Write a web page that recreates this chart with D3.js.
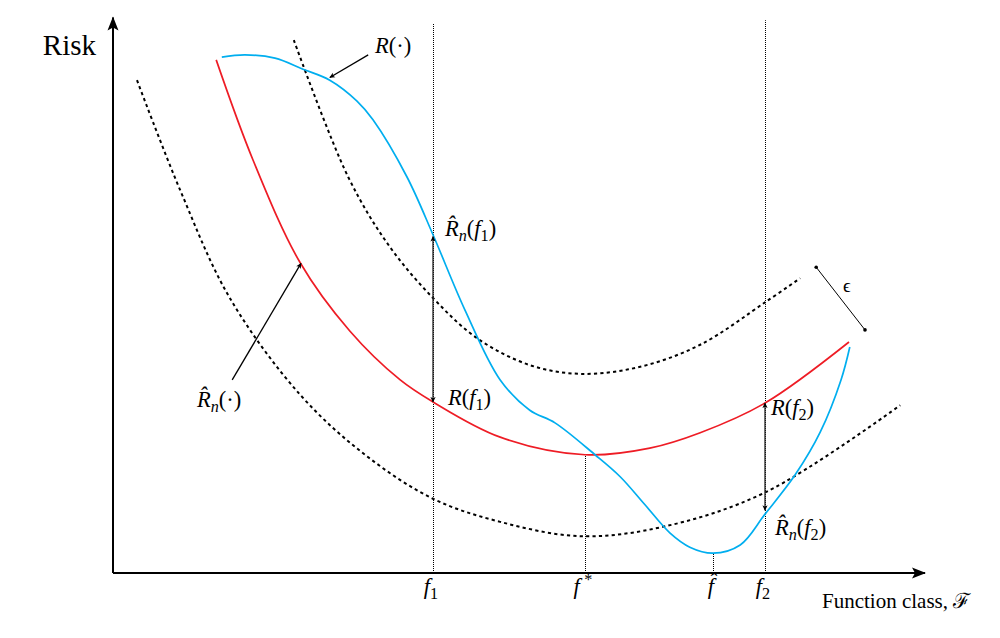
<!DOCTYPE html>
<html>
<head>
<meta charset="utf-8">
<script src="https://cdn.jsdelivr.net/npm/d3@7"></script>
<style>
  body { margin: 0; background: #fff; }
  svg text { font-family: "Liberation Serif", "DejaVu Serif", serif; fill: #000; }
</style>
</head>
<body>
<svg id="chart" width="1000" height="638"></svg>
<script>
// data: x = position in the function class, y = risk (both arbitrary 0..100 units)
const redX   = [12.9, 17.5, 23.4, 29.6, 35.9, 40, 48.4, 59, 67.1, 73.4, 81.5, 92];
const redY   = [93.3, 75.1, 56.4, 44, 35.1, 31.1, 24.7, 21.5, 22.7, 25.5, 30.9, 42];

const blueX  = [13.6, 16.5, 20.25, 23.75, 27.1, 30.5, 32.5, 36.75, 40, 44, 48.4, 52.1, 55.25, 60.25, 63.4, 66.5, 69.6, 72.1, 75, 78.4, 81.5, 85.25, 88.4, 91, 92.1];
const blueY  = [93.8, 94.2, 93.6, 91.6, 89.6, 85.8, 82.4, 72, 61.5, 47.8, 35.1, 29.6, 27.3, 21.5, 17.5, 12.4, 7.3, 4.7, 3.6, 5.1, 10.7, 17.8, 25.6, 35.1, 41.1];

const upperX = [22.6, 29.4, 34.6, 40, 45.5, 52.1, 58.6, 65.9, 73.4, 81.6, 85.9];
const upperY = [96.9, 72, 59.3, 50, 42.7, 37.8, 36.2, 37.5, 41.5, 49.3, 53.6];

const lowerX = [3, 8.4, 14.6, 23.4, 31.5, 40, 48.4, 58.4, 68.75, 81.6, 98.4];
const lowerY = [89.6, 69.6, 50, 32.4, 21.5, 13.5, 9.3, 6.7, 8.4, 14.7, 30.5];

// marked functions on the x axis: f1, f*, f-hat, f2
const markX   = [40, 59, 75, 81.5];
const markTop = [100, 21.5, 3.6, 100.5];   // top of each dotted guide
const markLabels = [
  [{ t: 'f', it: true }, { t: '1', sub: true }],
  [{ t: 'f', it: true }, { t: '\u2009' }, { t: '*', sup: true }],
  [{ t: 'f\u0302', it: true }],
  [{ t: 'f', it: true }, { t: '2', sub: true }]
];

// gap arrows at f1 and f2: [x, from, to]
const gapArrows = [[40, 31.1, 61.2], [81.5, 30.9, 11.4]];

const svg = d3.select('#chart');
const x = d3.scaleLinear().domain([0, 100]).range([113, 913]);
const y = d3.scaleLinear().domain([0, 100]).range([573, 23]);

// markers
const defs = svg.append('defs');
defs.append('marker')
  .attr('id', 'axhead').attr('viewBox', '-15 -7 17 14')
  .attr('refX', 0).attr('refY', 0)
  .attr('markerWidth', 17).attr('markerHeight', 14)
  .attr('markerUnits', 'userSpaceOnUse').attr('orient', 'auto')
  .append('path').attr('d', 'M1,0 L-13,-5.5 L-10,0 L-13,5.5 Z').attr('fill', '#000');
defs.append('marker')
  .attr('id', 'head').attr('viewBox', '-8 -5 10 10')
  .attr('refX', 0).attr('refY', 0)
  .attr('markerWidth', 10).attr('markerHeight', 10)
  .attr('markerUnits', 'userSpaceOnUse').attr('orient', 'auto-start-reverse')
  .append('path').attr('d', 'M0.5,0 L-5,-2.6 L-3.6,0 L-5,2.6 Z').attr('fill', '#000');

// axes
svg.append('line')
  .attr('x1', x(0)).attr('y1', y(0)).attr('x2', x(101.5)).attr('y2', y(0))
  .attr('stroke', '#000').attr('stroke-width', 2).attr('marker-end', 'url(#axhead)');
svg.append('line')
  .attr('x1', x(0)).attr('y1', y(0)).attr('x2', x(0)).attr('y2', y(101))
  .attr('stroke', '#000').attr('stroke-width', 2).attr('marker-end', 'url(#axhead)');

// dotted guides
svg.selectAll('.guide')
  .data(markX)
  .join('line')
    .attr('class', 'guide')
    .attr('x1', d => Math.round(x(d)) + 0.5).attr('x2', d => Math.round(x(d)) + 0.5)
    .attr('y1', y(0)).attr('y2', (d, i) => y(markTop[i]))
    .attr('stroke', '#000').attr('stroke-width', 1)
    .attr('stroke-dasharray', '1,1');

const line = d3.line()
  .x(d => x(d[0])).y(d => y(d[1]))
  .curve(d3.curveCatmullRom.alpha(0.5));

// dashed band
[[upperX, upperY], [lowerX, lowerY]].forEach(([xs, ys]) => {
  svg.append('path')
    .datum(d3.zip(xs, ys))
    .attr('d', line)
    .attr('fill', 'none').attr('stroke', '#000')
    .attr('stroke-width', 2).attr('stroke-dasharray', '3.2,3.2');
});

svg.append('path')
  .datum(d3.zip(redX, redY))
  .attr('d', line)
  .attr('fill', 'none').attr('stroke', '#ee1c25').attr('stroke-width', 1.7);

svg.append('path')
  .datum(d3.zip(blueX, blueY))
  .attr('d', line)
  .attr('fill', 'none').attr('stroke', '#00aeef').attr('stroke-width', 1.7);

// gap arrows
svg.selectAll('.gap')
  .data(gapArrows)
  .join('line')
    .attr('class', 'gap')
    .attr('x1', d => x(d[0])).attr('x2', d => x(d[0]))
    .attr('y1', d => y(d[1])).attr('y2', d => y(d[2]))
    .attr('stroke', '#222').attr('stroke-width', 1.3)
    .attr('marker-start', 'url(#head)').attr('marker-end', 'url(#head)');

// pointer arrows
svg.append('line')
  .attr('x1', x(31.9)).attr('y1', y(94.2)).attr('x2', x(27.1)).attr('y2', y(90.1))
  .attr('stroke', '#000').attr('stroke-width', 1.3).attr('marker-end', 'url(#head)');
svg.append('line')
  .attr('x1', x(14.9)).attr('y1', y(35.1)).attr('x2', x(23.5)).attr('y2', y(56.3))
  .attr('stroke', '#000').attr('stroke-width', 1.3).attr('marker-end', 'url(#head)');

// epsilon width
const eps = [[87.9, 55.6], [94, 44.2]];
svg.append('line')
  .attr('x1', x(eps[0][0])).attr('y1', y(eps[0][1]))
  .attr('x2', x(eps[1][0])).attr('y2', y(eps[1][1]))
  .attr('stroke', '#000').attr('stroke-width', 1);
svg.selectAll('.epsdot')
  .data(eps)
  .join('circle')
    .attr('class', 'epsdot')
    .attr('cx', d => x(d[0])).attr('cy', d => y(d[1])).attr('r', 1.8)
    .attr('fill', '#000');

// text helper: parts are {t, it, sub, sup}
function mathText(px, py, parts, size, anchor) {
  const t = svg.append('text')
    .attr('x', px).attr('y', py)
    .attr('text-anchor', anchor || 'start')
    .style('font-size', size + 'px');
  let shift = 0;
  parts.forEach(p => {
    const s = t.append('tspan').text(p.t);
    if (p.it) s.style('font-style', 'italic');
    let target = 0;
    if (p.sub) target = size * 0.24;
    if (p.sup) target = -size * 0.38;
    if (p.sub || p.sup) s.style('font-size', (size * 0.72) + 'px');
    if (target !== shift) { s.attr('dy', target - shift); shift = target; }
  });
  return t;
}

const fs = 22.5;
const Rhat = [{ t: 'R\u0302', it: true }, { t: 'n', it: true, sub: true }];
const paren = inner => [{ t: '(' }].concat(inner, [{ t: ')' }]);

svg.append('text')
  .attr('x', 96).attr('y', 55).attr('text-anchor', 'end')
  .style('font-size', '29px').text('Risk');

mathText(375, 53, [{ t: 'R', it: true }].concat(paren([{ t: '\u00b7' }])), fs);
mathText(445, 236, Rhat.concat(paren([{ t: 'f', it: true }, { t: '1', sub: true }])), fs);
mathText(448, 405, [{ t: 'R', it: true }].concat(paren([{ t: 'f', it: true }, { t: '1', sub: true }])), fs);
mathText(197, 407, Rhat.concat(paren([{ t: '\u00b7' }])), fs);
mathText(771, 415, [{ t: 'R', it: true }].concat(paren([{ t: 'f', it: true }, { t: '2', sub: true }])), fs);
mathText(775, 535, Rhat.concat(paren([{ t: 'f', it: true }, { t: '2', sub: true }])), fs);
mathText(843, 292, [{ t: '\u03f5' }], 19);

// x tick labels
markX.forEach((m, i) => {
  mathText(x(m) - 2, 594, markLabels[i], fs, 'middle');
});

mathText(822, 608, [{ t: 'Function class, ' }, { t: '\u2131' }], 21);
</script>
</body>
</html>
